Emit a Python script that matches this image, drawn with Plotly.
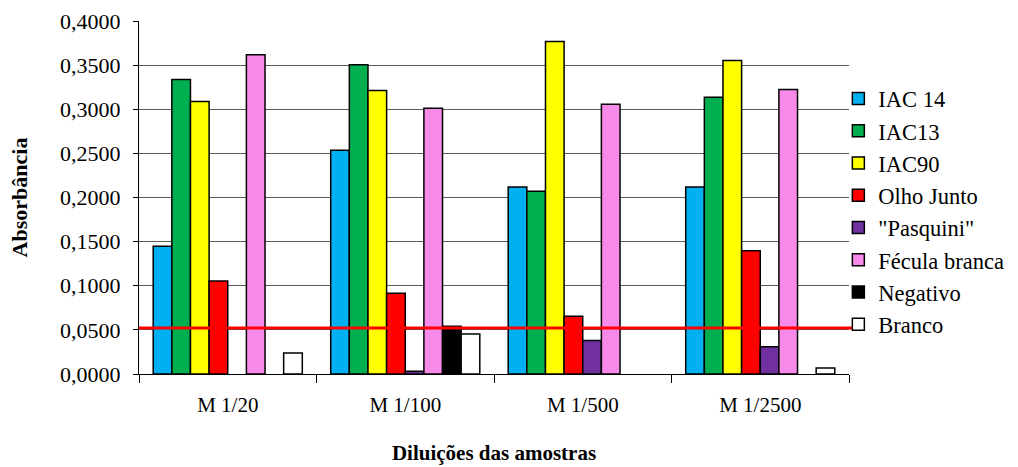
import plotly.graph_objects as go

categories = ["M 1/20", "M 1/100", "M 1/500", "M 1/2500"]

# None marks a sample with no reading in that dilution
iac14 = [0.1447, 0.2535, 0.2120, 0.2120]
iac13 = [0.3337, 0.3503, 0.2070, 0.3136]
iac90 = [0.3088, 0.3212, 0.3768, 0.3552]
olho_junto = [0.1054, 0.0914, 0.0653, 0.1398]
pasquini = [None, 0.0030, 0.0381, 0.0310]
fecula_branca = [0.3617, 0.3011, 0.3057, 0.3224]
negativo = [None, 0.0540, None, None]
branco = [0.0238, 0.0454, None, 0.0068]

cutoff = 0.052

series = [
    ("IAC 14", iac14, "#00B0F0"),
    ("IAC13", iac13, "#00B050"),
    ("IAC90", iac90, "#FFFF00"),
    ("Olho Junto", olho_junto, "#FF0000"),
    ('"Pasquini"', pasquini, "#7030A0"),
    ("Fécula branca", fecula_branca, "#F78AE8"),
    ("Negativo", negativo, "#000000"),
    ("Branco", branco, "#FFFFFF"),
]

FONT = "Liberation Serif, Times New Roman, serif"

fig = go.Figure()
for name, vals, color in series:
    fig.add_trace(go.Bar(
        name=name, x=categories, y=vals,
        marker=dict(color=color, line=dict(color="#000000", width=1.5)),
    ))

# threshold line across the plot
fig.add_shape(type="line", xref="paper", yref="y", x0=0, x1=1.016,
              y0=cutoff, y1=cutoff, line=dict(color="#FF0000", width=3),
              layer="above")

fig.update_layout(
    width=1018, height=467,
    margin=dict(l=139, r=169, t=21, b=93, autoexpand=False),
    paper_bgcolor="white", plot_bgcolor="white",
    barmode="group", bargap=0.16, bargroupgap=0,
    font=dict(family=FONT, size=21, color="#000000"),
    separators=",.",
    legend=dict(x=0.985, xanchor="left", y=0.84, yanchor="top",
                font=dict(family=FONT, size=22.5), bgcolor="rgba(0,0,0,0)",
                itemwidth=30, tracegroupgap=0),
    xaxis=dict(
        type="category", showgrid=False, showline=True, linecolor="#000000",
        linewidth=1, ticks="outside", tickson="boundaries", ticklen=8,
        tickcolor="#000000", ticklabelstandoff=12, automargin=False,
        tickfont=dict(family=FONT, size=21),
        title=dict(text="<b>Diluições das amostras</b>", standoff=29,
                   font=dict(family=FONT, size=21)),
    ),
    yaxis=dict(
        range=[0, 0.4], dtick=0.05, tickformat=".4f",
        showgrid=True, gridcolor="#5a5a5a", gridwidth=1,
        showline=True, linecolor="#000000", linewidth=1,
        ticks="outside", ticklen=5, tickcolor="#000000",
        ticklabelstandoff=8, zeroline=False, automargin=False,
        tickfont=dict(family=FONT, size=22),
        title=dict(text="<b>Absorbância</b>", standoff=26,
                   font=dict(family=FONT, size=22)),
    ),
)

fig.write_html("out.html")
